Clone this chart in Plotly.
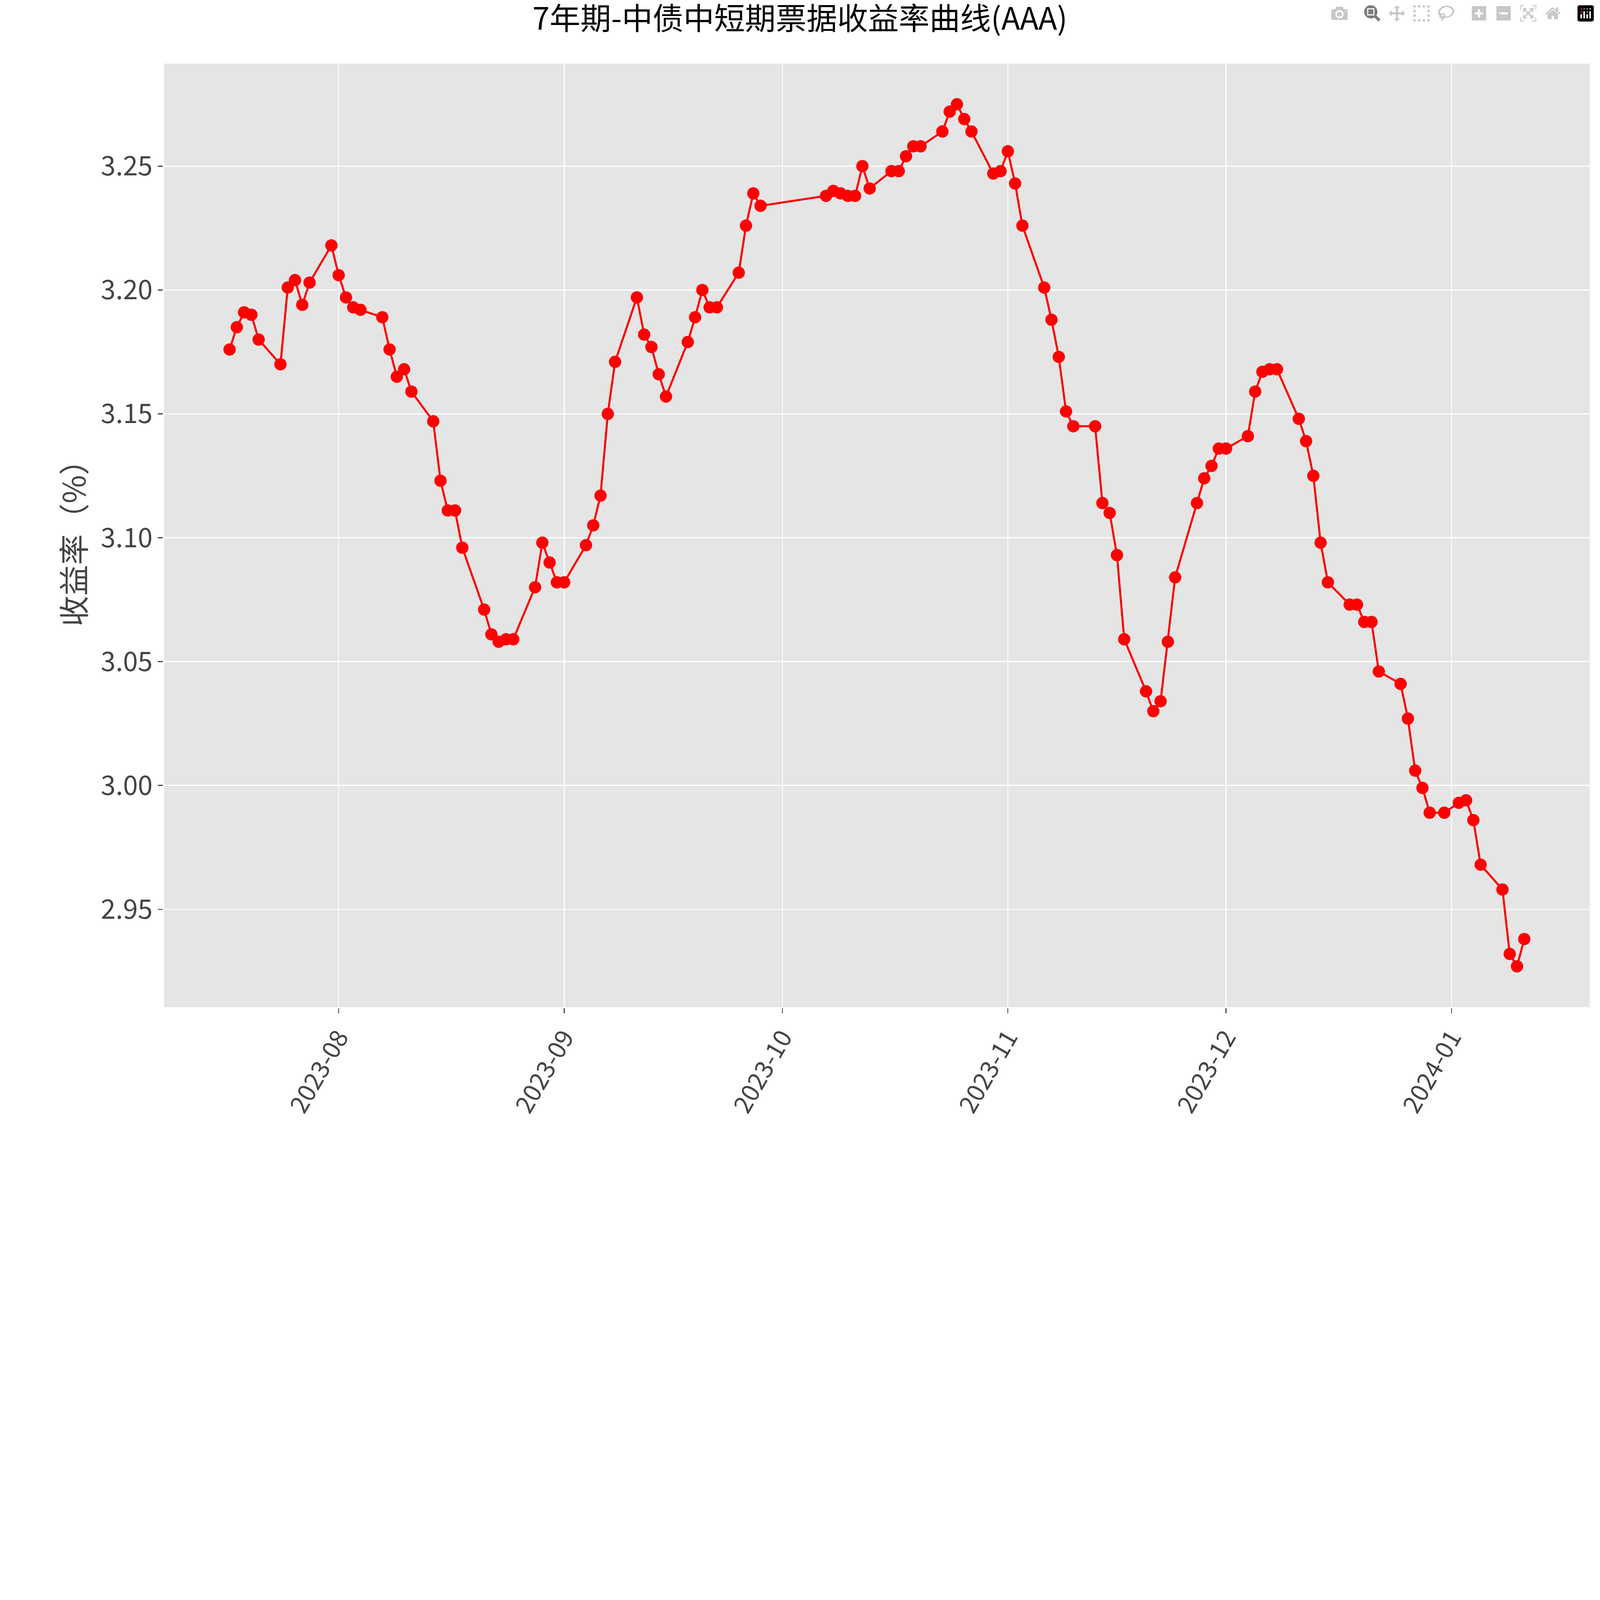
import plotly.graph_objects as go

# trading dates and yields
dates = [
    "2023-07-17", "2023-07-18", "2023-07-19", "2023-07-20", "2023-07-21",
    "2023-07-24", "2023-07-25", "2023-07-26", "2023-07-27", "2023-07-28",
    "2023-07-31", "2023-08-01", "2023-08-02", "2023-08-03", "2023-08-04",
    "2023-08-07", "2023-08-08", "2023-08-09", "2023-08-10", "2023-08-11",
    "2023-08-14", "2023-08-15", "2023-08-16", "2023-08-17", "2023-08-18",
    "2023-08-21", "2023-08-22", "2023-08-23", "2023-08-24", "2023-08-25",
    "2023-08-28", "2023-08-29", "2023-08-30", "2023-08-31", "2023-09-01",
    "2023-09-04", "2023-09-05", "2023-09-06", "2023-09-07", "2023-09-08",
    "2023-09-11", "2023-09-12", "2023-09-13", "2023-09-14", "2023-09-15",
    "2023-09-18", "2023-09-19", "2023-09-20", "2023-09-21", "2023-09-22",
    "2023-09-25", "2023-09-26", "2023-09-27", "2023-09-28",
    "2023-10-07", "2023-10-08", "2023-10-09", "2023-10-10", "2023-10-11",
    "2023-10-12", "2023-10-13",
    "2023-10-16", "2023-10-17", "2023-10-18", "2023-10-19", "2023-10-20",
    "2023-10-23", "2023-10-24", "2023-10-25", "2023-10-26", "2023-10-27",
    "2023-10-30", "2023-10-31", "2023-11-01", "2023-11-02", "2023-11-03",
    "2023-11-06", "2023-11-07", "2023-11-08", "2023-11-09", "2023-11-10",
    "2023-11-13", "2023-11-14", "2023-11-15", "2023-11-16", "2023-11-17",
    "2023-11-20", "2023-11-21", "2023-11-22", "2023-11-23", "2023-11-24",
    "2023-11-27", "2023-11-28", "2023-11-29", "2023-11-30", "2023-12-01",
    "2023-12-04", "2023-12-05", "2023-12-06", "2023-12-07", "2023-12-08",
    "2023-12-11", "2023-12-12", "2023-12-13", "2023-12-14", "2023-12-15",
    "2023-12-18", "2023-12-19", "2023-12-20", "2023-12-21", "2023-12-22",
    "2023-12-25", "2023-12-26", "2023-12-27", "2023-12-28", "2023-12-29",
    "2023-12-31", "2024-01-02", "2024-01-03", "2024-01-04", "2024-01-05",
    "2024-01-08", "2024-01-09", "2024-01-10", "2024-01-11",
]
yields = [
    3.176, 3.185, 3.191, 3.190, 3.180,
    3.170, 3.201, 3.204, 3.194, 3.203,
    3.218, 3.206, 3.197, 3.193, 3.192,
    3.189, 3.176, 3.165, 3.168, 3.159,
    3.147, 3.123, 3.111, 3.111, 3.096,
    3.071, 3.061, 3.058, 3.059, 3.059,
    3.080, 3.098, 3.090, 3.082, 3.082,
    3.097, 3.105, 3.117, 3.150, 3.171,
    3.197, 3.182, 3.177, 3.166, 3.157,
    3.179, 3.189, 3.200, 3.193, 3.193,
    3.207, 3.226, 3.239, 3.234,
    3.238, 3.240, 3.239, 3.238, 3.238,
    3.250, 3.241,
    3.248, 3.248, 3.254, 3.258, 3.258,
    3.264, 3.272, 3.275, 3.269, 3.264,
    3.247, 3.248, 3.256, 3.243, 3.226,
    3.201, 3.188, 3.173, 3.151, 3.145,
    3.145, 3.114, 3.110, 3.093, 3.059,
    3.038, 3.030, 3.034, 3.058, 3.084,
    3.114, 3.124, 3.129, 3.136, 3.136,
    3.141, 3.159, 3.167, 3.168, 3.168,
    3.148, 3.139, 3.125, 3.098, 3.082,
    3.073, 3.073, 3.066, 3.066, 3.046,
    3.041, 3.027, 3.006, 2.999, 2.989,
    2.989, 2.993, 2.994, 2.986, 2.968,
    2.958, 2.932, 2.927, 2.938,
]

W, H = 1560, 1137  # base layout size; scaled up to fill the window in the page
FONT = "Noto Sans CJK SC"

fig = go.Figure(go.Scatter(
    x=dates, y=yields, mode="lines+markers",
    line=dict(color="red", width=2),
    marker=dict(color="red", size=12),
    showlegend=False,
))

fig.update_layout(
    width=W, height=H,
    paper_bgcolor="white", plot_bgcolor="#e5e5e5",
    font=dict(family=FONT, color="#444"),
    title=dict(text="7年期-中债中短期票据收益率曲线(AAA)", x=0.5, xanchor="center",
               y=0.993, yanchor="top", font=dict(size=30, color="black")),
    margin=dict(l=160, r=10, t=62, b=155),
)
fig.update_xaxes(
    range=["2023-07-08", "2024-01-20"], dtick="M1", tickformat="%Y-%m",
    tickangle=-60, tickfont=dict(size=24, color="#444"),
    showgrid=True, gridcolor="white", gridwidth=1.2,
    ticks="outside", ticklen=5, tickwidth=1, tickcolor="#444",
    zeroline=False,
)
fig.update_yaxes(
    range=[2.9105, 3.2914], tickvals=[2.95, 3.00, 3.05, 3.10, 3.15, 3.20, 3.25],
    tickformat=".2f", tickfont=dict(size=26, color="#444"),
    title=dict(text="收益率（%）", font=dict(size=30, color="#444"), standoff=5),
    showgrid=True, gridcolor="white", gridwidth=1.2,
    ticks="outside", ticklen=5, tickwidth=1, tickcolor="#444",
    zeroline=False,
)

# scale the vector chart to fill whatever window it is opened in
post = (
    "var d=document.getElementById('{plot_id}');"
    "document.body.style.margin='0';document.body.style.overflow='hidden';"
    f"var k=Math.min(window.innerWidth/{W},window.innerHeight/{H});"
    "d.style.transformOrigin='0 0';d.style.transform='scale('+k+')';"
)
fig.write_html("out.html", post_script=post)
